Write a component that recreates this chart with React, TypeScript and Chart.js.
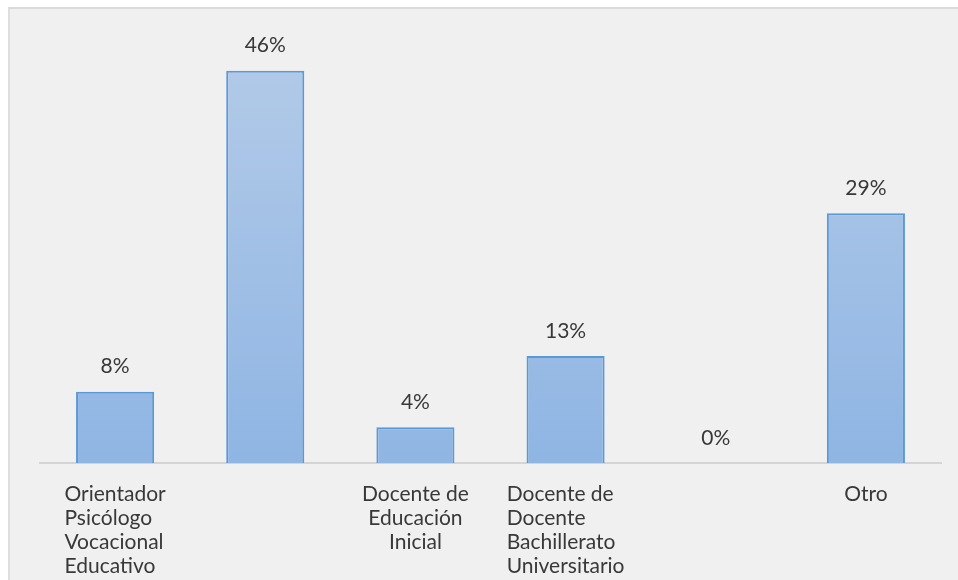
import React, { useEffect, useRef } from "react";
import { Chart, registerables } from "chart.js";

Chart.register(...registerables);

const categories: string[][] = [
  ["Orientador", "Psicólogo", "Vocacional", "Educativo"],
  [],
  ["Docente de", "Educación", "Inicial"],
  ["Docente de", "Docente", "Bachillerato", "Universitario"],
  [],
  ["Otro"],
];
const labelAlign: string[] = ["block", "center", "center", "block", "center", "center"];
const values: number[] = [8.33, 45.83, 4.17, 12.5, 0, 29.17];
const valueLabels: string[] = ["8%", "46%", "4%", "13%", "0%", "29%"];

const FONT = "Lato, 'Noto Sans', sans-serif";
const TEXT = "#383838";

const labelsPlugin = {
  id: "customLabels",
  afterDatasetsDraw(chart: any) {
    const ctx = chart.ctx;
    const xs = chart.scales.x;
    const ys = chart.scales.y;
    ctx.save();
    ctx.fillStyle = TEXT;
    ctx.font = `21px ${FONT}`;
    ctx.textBaseline = "middle";
    values.forEach((v, i) => {
      const x = xs.getPixelForValue(i);
      const y = ys.getPixelForValue(v);
      ctx.textAlign = "center";
      ctx.fillText(valueLabels[i], x, y - 25);
    });
    const base = ys.getPixelForValue(0);
    categories.forEach((lines, i) => {
      if (!lines.length) return;
      const cx = xs.getPixelForValue(i);
      if (labelAlign[i] === "block") {
        const w = Math.max(...lines.map((l) => ctx.measureText(l).width));
        ctx.textAlign = "left";
        lines.forEach((l, k) => ctx.fillText(l, cx - w / 2, base + 31 + k * 24));
      } else {
        ctx.textAlign = "center";
        lines.forEach((l, k) => ctx.fillText(l, cx, base + 31 + k * 24));
      }
    });
    ctx.restore();
  },
};

export default function App() {
  const ref = useRef<HTMLCanvasElement>(null);
  useEffect(() => {
    if (!ref.current) return;
    const chart = new Chart(ref.current, {
      type: "bar",
      data: {
        labels: categories.map((c) => c.join(" ")),
        datasets: [
          {
            data: values,
            backgroundColor: (c: any) => {
              const { ctx, chartArea } = c.chart;
              if (!chartArea) return "#a6c3e6";
              const g = ctx.createLinearGradient(0, chartArea.top, 0, chartArea.bottom);
              g.addColorStop(0, "#b4cbe8");
              g.addColorStop(1, "#8fb5e3");
              return g;
            },
            borderColor: "#5b98d6",
            borderWidth: 2,
            borderSkipped: "bottom",
            barPercentage: 0.52,
            categoryPercentage: 1,
          },
        ],
      },
      options: {
        animation: false,
        responsive: false,
        maintainAspectRatio: false,
        layout: { padding: { left: 30, right: 17, top: 26, bottom: 117 } },
        plugins: { legend: { display: false }, tooltip: { enabled: false } },
        scales: {
          x: {
            display: true,
            grid: { display: false, drawTicks: false },
            ticks: { display: false },
            border: { display: true, color: "#d4d4d4", width: 2 },
          },
          y: { display: false, min: 0, max: 50 },
        },
      },
      plugins: [labelsPlugin],
    });
    return () => chart.destroy();
  }, []);
  return (
    <div
      style={{
        position: "fixed",
        left: 8,
        top: 7,
        width: 950,
        height: 573,
        background: "#f0f0f0",
        borderTop: "2px solid #dadada",
        borderLeft: "2px solid #dedede",
        boxSizing: "border-box",
        overflow: "hidden",
      }}
    >
      <canvas ref={ref} width={948} height={571} style={{ display: "block" }} />
    </div>
  );
}
